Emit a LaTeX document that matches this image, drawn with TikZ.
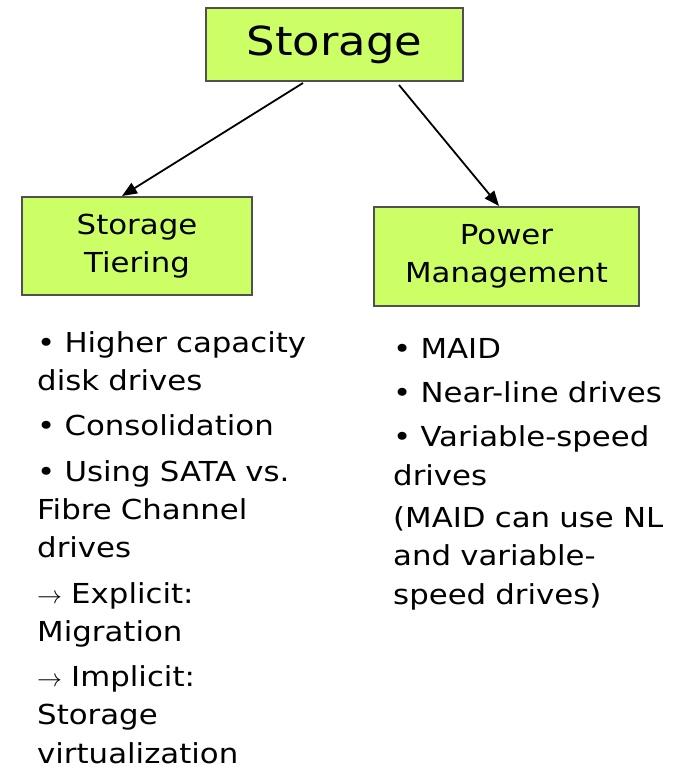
\documentclass[tikz,border=0pt]{standalone}
\usepackage{fontspec}
\setmainfont{DejaVu Sans}[FakeStretch=1.12]
\usetikzlibrary{arrows.meta, positioning}

\definecolor{boxgreen}{HTML}{CCFF66}
\definecolor{boxedge}{HTML}{505050}

\begin{document}
\begin{tikzpicture}[x=1pt, y=-1pt]
    \tikzstyle{topic} = [draw=boxedge, fill=boxgreen, line width=2pt, rectangle, align=center, font=\fontsize{27.5}{38}\selectfont];
    \tikzstyle{notes} = [anchor=north west, inner sep=0pt, text width=400pt, align=left, font=\fontsize{27.5}{38.3}\selectfont];
    \tikzstyle{link} = [line width=1.8pt, -{Triangle[length=15pt, width=12pt]}];

    \useasboundingbox (0, 0) rectangle (685, 770);

    % the three boxes
    \node[topic, minimum width=257, minimum height=73, font=\fontsize{40}{48}\selectfont] at (334.5, 44.5) (storage) {Storage};
    \node[topic, minimum width=230, minimum height=98] at (137, 246) (tiering) {Storage\\Tiering};
    \node[topic, minimum width=265, minimum height=99] at (506.5, 256.5) (power) {Power\\Management};

    \draw[link] ([xshift=-31.5pt, yshift=-1pt]storage.south) -- ([xshift=-15pt]tiering.north);
    \draw[link] ([xshift=64.5pt, yshift=-3pt]storage.south) -- ([xshift=-7.5pt]power.north);

    % bullet lists under each box
    \node[notes] at (37, 331) (tieringnotes) {\rule{0pt}{21pt}\textbullet{} Higher capacity\\
        disk drives\\[7pt]
        \textbullet{} Consolidation\\[7pt]
        \textbullet{} Using SATA vs.\\
        Fibre Channel\\
        drives\\[7pt]
        $\rightarrow$ Explicit:\\
        Migration\\[7pt]
        $\rightarrow$ Implicit:\\
        Storage\\
        virtualization};

    \node[notes] at (393, 337) (powernotes) {\rule{0pt}{21pt}\textbullet{} MAID\\[6pt]
        \textbullet{} Near-line drives\\[6pt]
        \textbullet{} Variable-speed\\
        drives\\[4pt]
        (MAID can use NL\\
        and variable-\\
        speed drives)};
\end{tikzpicture}
\end{document}
